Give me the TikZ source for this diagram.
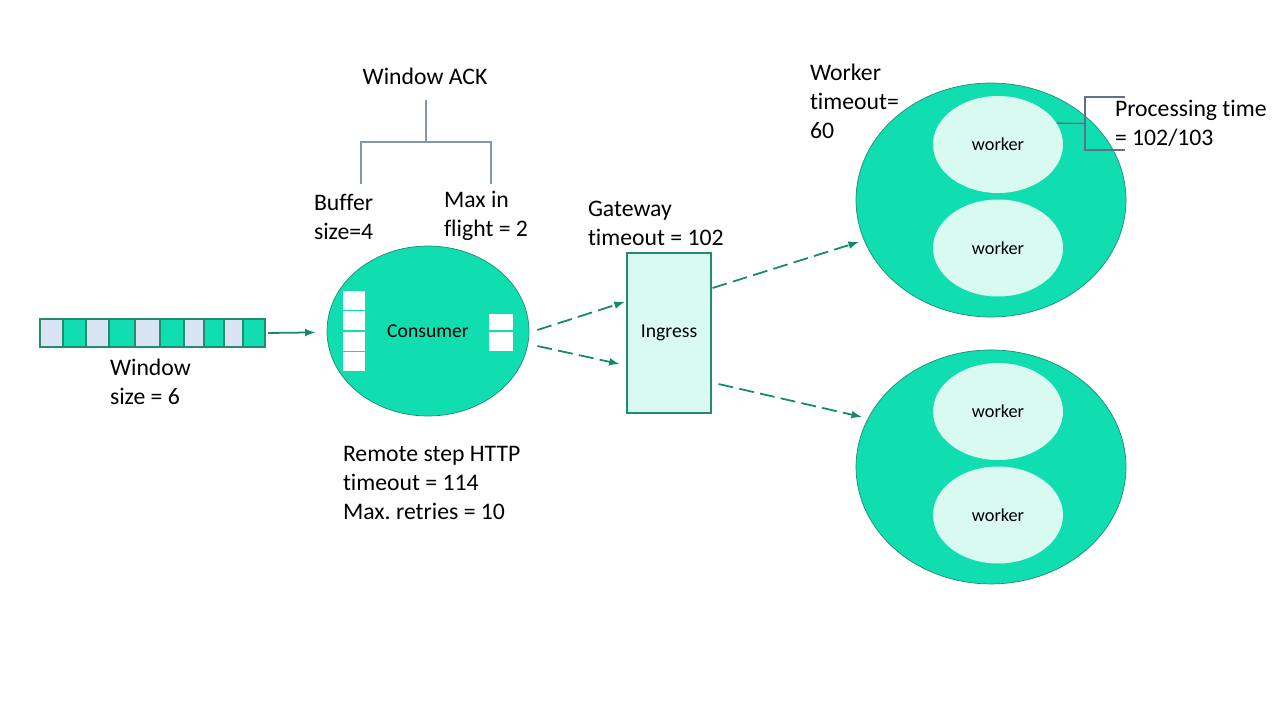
\documentclass[tikz,border=0pt]{standalone}
\usepackage{fontspec}
\setmainfont{Carlito}[Ligatures=NoCommon]
\frenchspacing
\usetikzlibrary{arrows,shapes,calc,positioning}
\definecolor{tealfill}{RGB}{16,222,176}
\definecolor{tealline}{RGB}{32,140,112}
\definecolor{tealarrow}{RGB}{22,136,108}
\definecolor{tealpale}{RGB}{216,250,241}
\definecolor{cellgrey}{RGB}{218,227,243}
\definecolor{slate}{RGB}{132,150,176}
\definecolor{slatedark}{RGB}{96,112,136}
\def\bigfont{\fontsize{13.5}{16.4}\selectfont}
\def\smallfont{\fontsize{11.2}{13}\selectfont}
\tikzset{
  note/.style={
    inner sep=0pt,
    outer sep=0pt,
    align=left,
    anchor=base west,
    font=\bigfont
  },
  pool/.style n args={2}{
    ellipse,
    inner sep=0pt,
    minimum width=#1,
    minimum height=#2,
    draw=tealline,
    line width=0.4pt,
    fill=tealfill,
    font=\smallfont
  },
  workernode/.style={
    ellipse,
    inner sep=0pt,
    minimum width=2.6cm,
    minimum height=1.94cm,
    fill=tealpale,
    font=\fontsize{10.4}{12}\selectfont
  },
  gatebox/.style={
    rectangle,
    inner sep=0pt,
    minimum width=1.68cm,
    minimum height=3.2cm,
    draw=tealline,
    line width=0.6pt,
    fill=tealpale,
    font=\smallfont
  },
  lightcell/.style={draw=tealline, line width=0.6pt, fill=cellgrey},
  darkcell/.style={draw=tealline, line width=0.6pt, fill=tealfill},
  slot/.style={draw=tealfill, line width=0.6pt, fill=white},
  flow/.style={->, draw=tealarrow, line width=1pt},
  dflow/.style={flow, dash pattern=on 8.5pt off 3.6pt},
  tree/.style={draw=slate, line width=0.8pt},
  brace/.style={draw=slatedark, line width=0.8pt},
}

\begin{document}
\begin{tikzpicture}[>=latex, x=0.02cm, y=-0.02cm]
    \useasboundingbox (0,0) rectangle (1280,720);

    %% Window of messages
    \draw[lightcell] (40,319) rectangle (63,347);
    \draw[darkcell] (63,319) rectangle (86,347);
    \draw[lightcell] (86,319) rectangle (109,347);
    \draw[darkcell] (109,319) rectangle (135,347);
    \draw[lightcell] (135,319) rectangle (160,347);
    \draw[darkcell] (160,319) rectangle (184,347);
    \draw[lightcell] (184,319) rectangle (204,347);
    \draw[darkcell] (204,319) rectangle (224,347);
    \draw[lightcell] (224,319) rectangle (243,347);
    \draw[darkcell] (243,319) rectangle (265,347);
    \coordinate (winend) at (268,333);
    \node[note] (winsize) at (110,404) {Window\\size = 6};

    %% Consumer
    \node[pool={4.04cm}{3.4cm}] (consumer) at (428,331) {Consumer};
    \draw[slot] (342,290) rectangle (366,310.5);
    \draw[slot] (342,310.5) rectangle (366,331);
    \draw[slot] (342,331) rectangle (366,351.5);
    \draw[slot] (342,351.5) rectangle (366,372);
    \draw[slot] (488,313) rectangle (514,331);
    \draw[slot] (488,331) rectangle (514,352);
    \draw[flow, shorten >=6.5] (winend) -- (consumer);

    %% Window ACK
    \node[note, anchor=base] (ack) at (425,84) {Window ACK};
    \coordinate (ackstem) at (426,100);
    \coordinate (ackl) at (361,184);
    \coordinate (ackr) at (491,184);
    \draw[tree] (ackstem) -- ++(0,42);
    \draw[tree] (ackl) -- ++(0,-42) -| (ackr);
    \node[note] (bufsize) at (314,239) {Buffer\\size=4};
    \node[note] (inflight) at (444,236) {Max in\\flight = 2};
    \node[note] (remote) at (343,519) {Remote step HTTP\\timeout = 114\\Max. retries = 10};

    %% Gateway
    \node[gatebox] (ingress) at (669,333) {Ingress};
    \node[note] (gateway) at (588,245) {Gateway\\timeout = 102};
    \draw[dflow] ($(consumer.east)+(8,-1)$) -- ($(ingress.west)+(-2,-31)$);
    \draw[dflow] ($(consumer.east)+(8,15)$) -- ($(ingress.west)+(-7,31)$);

    %% Workers
    \node[pool={5.4cm}{4.68cm}] (pool1) at (991,200) {};
    \node[pool={5.4cm}{4.68cm}, below of=pool1, node distance=5.34cm] (pool2) {};
    \node[workernode] (w1a) at (998,144.5) {worker};
    \node[workernode] (w1b) at (998,248) {worker};
    \node[workernode] (w2a) at (998,411.5) {worker};
    \node[workernode] (w2b) at (998,515) {worker};
    \node[note] (wtimeout) at (810,138) {Worker\\timeout=\\60};
    \node[note] (proctime) at (1115,145) {Processing time\\= 102/103};
    \draw[dflow] ($(ingress.east)+(1,-45)$) -- ($(pool1.west)+(3,42)$);
    \draw[dflow] ($(ingress.east)+(7,51)$) -- ($(pool2.west)+(6,-50)$);

    %% Processing time bracket
    \coordinate (brk) at (1085,123.5);
    \draw[brace] (w1a.20) -- (brk);
    \draw[brace] ($(brk)+(40,-26.5)$) -| ($(brk)+(0,26.5)$) -- ++(40,0);
\end{tikzpicture}
\end{document}
